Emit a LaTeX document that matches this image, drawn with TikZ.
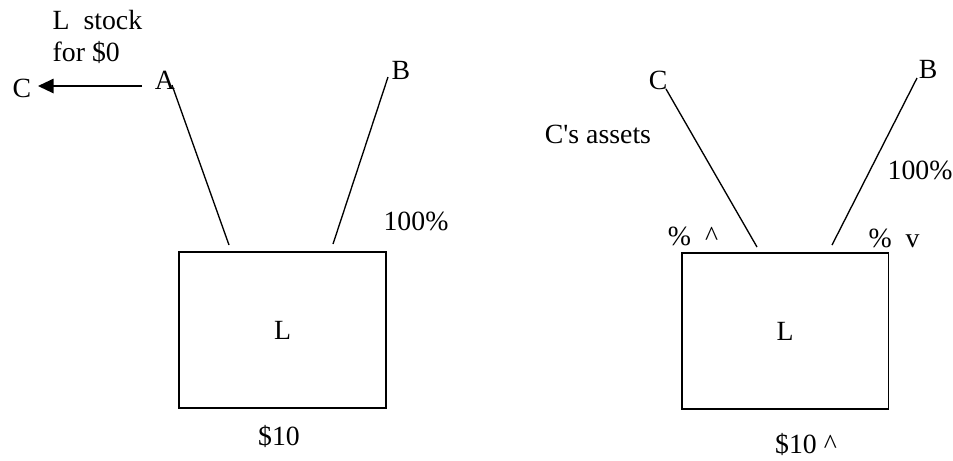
\documentclass[tikz,border=0pt]{standalone}
\usepackage{fontspec}
\setmainfont{Liberation Serif}
\usepackage{tikz}
\usetikzlibrary{positioning,arrows.meta}

\begin{document}
\begin{tikzpicture}[
  x=0.45pt, y=-0.45pt,
  firm/.style={rectangle, draw, line width=0.75pt, minimum width=93pt, minimum height=70pt, font=\fontsize{12.5}{14.4}\selectfont},
  tag/.style={font=\fontsize{12.5}{14.4}\selectfont, inner sep=1pt, align=left},
  link/.style={line width=0.6pt}
]
\useasboundingbox (0,0) rectangle (953,460);

% left picture
\node[firm] (lbox) at (282.5,330) {L};
\node[tag] (la) at (165,80) {A};
\node[tag] (lb) at (401,70) {B};
\node[tag] (lc) at (22,88) {C};
\node[tag, anchor=north west] (lstock) at (50,8) {L\ \ stock\\for \$0};
\node[tag] (lpct) at (416,221) {100\%};
\node[tag] (lprice) at (279,436) {\$10};
\coordinate (la1) at (172,85);
\coordinate (la2) at (229,245);
\coordinate (lb1) at (388,77);
\coordinate (lb2) at (333,244);
\coordinate (ar1) at (142,86);
\coordinate (ar2) at (38,86);
\draw[link] (la1) -- (la2);
\draw[link] (lb1) -- (lb2);
\draw[link, -{Triangle[length=7pt,width=6.5pt]}] (ar1) -- (ar2);

% right picture
\node[firm] (rbox) at (785,331) {L};
\node[tag] (rc) at (658,80) {C};
\node[tag] (rb) at (928,69) {B};
\node[tag] (rassets) at (598,134) {C\textquotesingle s assets};
\node[tag] (rpct) at (920,170) {100\%};
\node[tag] (rup) at (693,236) {\%\ \ \textasciicircum};
\node[tag] (rdown) at (894,238) {\%\ \ v};
\node[tag] (rprice) at (806,444) {\$10 \textasciicircum};
\coordinate (rc1) at (666,89);
\coordinate (rc2) at (757,247);
\coordinate (rb1) at (917,78);
\coordinate (rb2) at (832,245);
\draw[link] (rc1) -- (rc2);
\draw[link] (rb1) -- (rb2);
\end{tikzpicture}
\end{document}
